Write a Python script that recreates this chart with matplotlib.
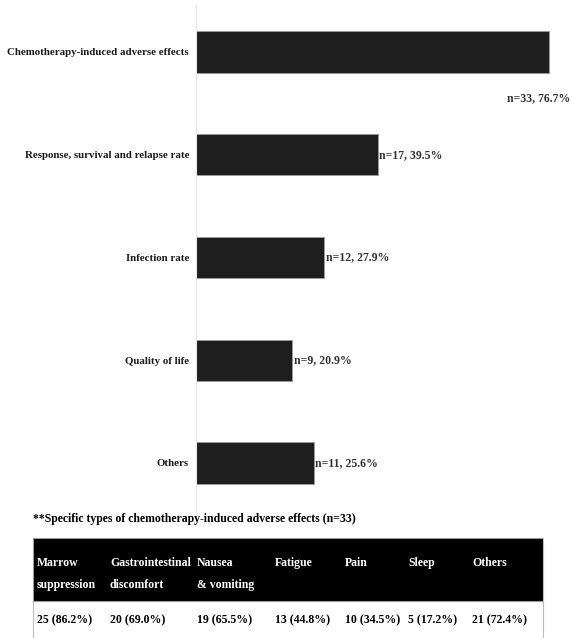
import matplotlib
matplotlib.use("Agg")
import matplotlib.pyplot as plt
from matplotlib.patches import Rectangle

# bar chart data
categories = ["Chemotherapy-induced adverse effects",
              "Response, survival and relapse rate",
              "Infection rate",
              "Quality of life",
              "Others"]
counts = [33, 17, 12, 9, 11]
percents = [76.7, 39.5, 27.9, 20.9, 25.6]

# table data
table_title = "**Specific types of chemotherapy-induced adverse effects (n=33)"
header_top = ["Marrow", "Gastrointestinal", "Nausea", "Fatigue", "Pain", "Sleep", "Others"]
header_bottom = ["suppression", "discomfort", "& vomiting", "", "", "", ""]
table_values = ["25 (86.2%)", "20 (69.0%)", "19 (65.5%)", "13 (44.8%)",
                "10 (34.5%)", "5 (17.2%)", "21 (72.4%)"]

font = "Liberation Serif"
fs = 8.5

W, H = 572, 638
fig = plt.figure(figsize=(W / 100, H / 100), dpi=100)

# --- bar chart ---
ax = fig.add_axes([196 / W, 1 - 512 / H, 368 / W, 507 / H])
y = list(range(len(categories)))
ax.barh(y, percents, height=0.4, color="#1e1e1e", edgecolor="#9a9a9a", linewidth=0.6)
ax.set_xlim(0, 80)
ax.set_ylim(4.477, -0.457)
ax.set_yticks(y)
ax.set_yticklabels(categories, fontfamily=font, fontweight="bold", fontsize=7.8,
                   color="#1a1a1a")
ax.tick_params(axis="y", length=0, pad=5)
ax.set_xticks([])
for s in ["top", "right", "bottom"]:
    ax.spines[s].set_visible(False)
ax.spines["left"].set_color("#e6e6e6")
ax.spines["left"].set_linewidth(0.8)

for i, (n, p) in enumerate(zip(counts, percents)):
    lab = f"n={n}, {p}%"
    if i == 0:
        ax.text(81.3, i + 0.45, lab, ha="right", va="center",
                fontfamily=font, fontweight="bold", fontsize=fs, color="#333333",
                clip_on=False)
    else:
        ax.text(p + 0.3, i, lab, ha="left", va="center",
                fontfamily=font, fontweight="bold", fontsize=fs, color="#333333")

# --- table ---
tx = fig.add_axes([33 / W, 0, 510 / W, 100 / H])
tx.set_xlim(0, 510)
tx.set_ylim(100, 0)
tx.axis("off")
tx.add_patch(Rectangle((0, 0), 510, 110, facecolor="white", edgecolor="#bdbdbd",
                       linewidth=0.8, clip_on=False))
tx.add_patch(Rectangle((0, 0), 510, 63, facecolor="black", edgecolor="#9a9a9a",
                       linewidth=0.8))
col_x = [4, 77, 164, 242, 312, 375, 439]
for x, a, b, v in zip(col_x, header_top, header_bottom, table_values):
    tx.text(x, 28, a, ha="left", va="baseline", color="white",
            fontfamily=font, fontweight="bold", fontsize=fs)
    tx.text(x, 50, b, ha="left", va="baseline", color="white",
            fontfamily=font, fontweight="bold", fontsize=fs)
    tx.text(x, 85, v, ha="left", va="baseline", color="black",
            fontfamily=font, fontweight="bold", fontsize=fs)
tx.text(0, -16, table_title, ha="left", va="baseline", color="black",
        fontfamily=font, fontweight="bold", fontsize=fs, clip_on=False)

fig.savefig("out.png", dpi=100, facecolor="white")
